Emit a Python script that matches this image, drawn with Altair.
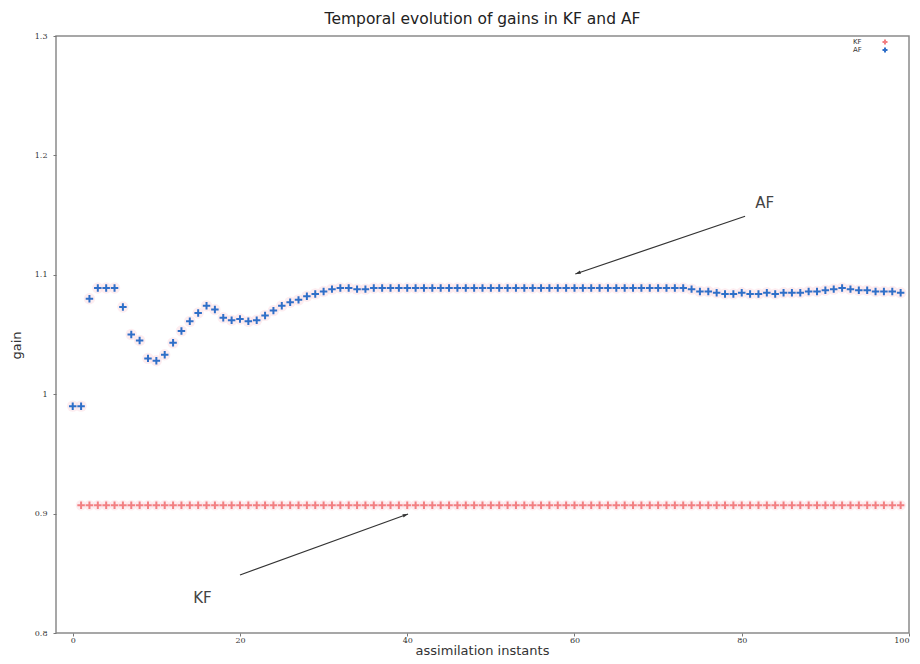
import altair as alt
import pandas as pd

# ---------------- data ----------------
af_instants = list(range(0, 100))
af_gain = [
    0.990, 0.990, 1.080, 1.089, 1.089, 1.089, 1.073, 1.050, 1.045, 1.030,
    1.028, 1.033, 1.043, 1.053, 1.061, 1.068, 1.074, 1.071, 1.064, 1.062,
    1.063, 1.061, 1.062, 1.066, 1.070, 1.074, 1.077, 1.079, 1.082, 1.084,
    1.086, 1.088, 1.089, 1.089, 1.088, 1.088, 1.089, 1.089, 1.089, 1.089,
    1.089, 1.089, 1.089, 1.089, 1.089, 1.089, 1.089, 1.089, 1.089, 1.089,
    1.089, 1.089, 1.089, 1.089, 1.089, 1.089, 1.089, 1.089, 1.089, 1.089,
    1.089, 1.089, 1.089, 1.089, 1.089, 1.089, 1.089, 1.089, 1.089, 1.089,
    1.089, 1.089, 1.089, 1.089, 1.088, 1.086, 1.086, 1.085, 1.084, 1.084,
    1.085, 1.084, 1.084, 1.085, 1.084, 1.085, 1.085, 1.085, 1.086, 1.086,
    1.087, 1.088, 1.089, 1.088, 1.087, 1.087, 1.086, 1.086, 1.086, 1.085,
]

kf_instants = list(range(1, 100))
kf_gain = [
    0.907, 0.907, 0.907, 0.907, 0.907, 0.907, 0.907, 0.907, 0.907,
    0.907, 0.907, 0.907, 0.907, 0.907, 0.907, 0.907, 0.907, 0.907, 0.907,
    0.907, 0.907, 0.907, 0.907, 0.907, 0.907, 0.907, 0.907, 0.907, 0.907,
    0.907, 0.907, 0.907, 0.907, 0.907, 0.907, 0.907, 0.907, 0.907, 0.907,
    0.907, 0.907, 0.907, 0.907, 0.907, 0.907, 0.907, 0.907, 0.907, 0.907,
    0.907, 0.907, 0.907, 0.907, 0.907, 0.907, 0.907, 0.907, 0.907, 0.907,
    0.907, 0.907, 0.907, 0.907, 0.907, 0.907, 0.907, 0.907, 0.907, 0.907,
    0.907, 0.907, 0.907, 0.907, 0.907, 0.907, 0.907, 0.907, 0.907, 0.907,
    0.907, 0.907, 0.907, 0.907, 0.907, 0.907, 0.907, 0.907, 0.907, 0.907,
    0.907, 0.907, 0.907, 0.907, 0.907, 0.907, 0.907, 0.907, 0.907, 0.907,
]

x_ticks = [0, 20, 40, 60, 80, 100]
y_ticks = [0.8, 0.9, 1.0, 1.1, 1.2, 1.3]

# annotations (label position, arrow start, arrow end) in data units
annot_labels = ["AF", "KF"]
annot_text_x = [81.6, 14.4]
annot_text_y = [1.160, 0.829]
arrow_x_start = [80.4, 20.0]
arrow_y_start = [1.149, 0.8486]
arrow_x_end = [60.1, 40.1]
arrow_y_end = [1.1007, 0.8997]
arrow_angle = [251, 70]

legend_labels = ["KF", "AF"]

# ---------------- styling ----------------
AF_COLOR = "#2f6fc8"
KF_COLOR = "#f27f82"
HALO = "#fbdfe4"
PLUS = "M-1,0L1,0M0,-1L0,1"
HEAD = "M0,0L-0.45,1.4L0.45,1.4Z"

af_df = pd.DataFrame({"instant": af_instants, "gain": af_gain})
kf_df = pd.DataFrame({"instant": kf_instants, "gain": kf_gain})
ann_df = pd.DataFrame({
    "label": annot_labels,
    "instant": annot_text_x,
    "gain": annot_text_y,
})
arr_df = pd.DataFrame({
    "instant": arrow_x_start,
    "gain": arrow_y_start,
    "instant2": arrow_x_end,
    "gain2": arrow_y_end,
})
head_df = pd.DataFrame({
    "instant": arrow_x_end,
    "gain": arrow_y_end,
    "angle": arrow_angle,
})

X = alt.X(
    "instant:Q",
    scale=alt.Scale(domain=[-2, 100], nice=False, zero=False),
    axis=alt.Axis(
        values=x_ticks,
        title="assimilation instants",
        titleFontSize=13,
        titleFont="DejaVu Sans",
        titleFontWeight="normal",
        titleColor="#333333",
        titleX=426,
        titleY=21,
        titleBaseline="alphabetic",
        titleAlign="center",
        labelPadding=0,
    ),
)
Y = alt.Y(
    "gain:Q",
    scale=alt.Scale(domain=[0.8, 1.3], nice=False, zero=False),
    axis=alt.Axis(
        values=y_ticks,
        format=".1~f",
        title="gain",
        titleFontSize=13,
        titleFont="DejaVu Sans",
        titleFontWeight="normal",
        titleColor="#333333",
        titleX=-40,
        titleY=309,
        titleAngle=-90,
        titleBaseline="middle",
        titleAlign="center",
        labelPadding=6,
    ),
)

halo_kf = alt.Chart(kf_df).mark_circle(size=110, color=HALO, opacity=0.55).encode(x=X, y=Y)
halo_af = alt.Chart(af_df).mark_circle(size=130, color=HALO, opacity=0.55).encode(x=X, y=Y)

kf_layer = alt.Chart(kf_df).mark_point(
    shape=PLUS, size=56, filled=False, strokeWidth=2, color=KF_COLOR, opacity=1
).encode(x=X, y=Y)

af_layer = alt.Chart(af_df).mark_point(
    shape=PLUS, size=56, filled=False, strokeWidth=2, color=AF_COLOR, opacity=1
).encode(x=X, y=Y)

ann_text = alt.Chart(ann_df).mark_text(
    font="DejaVu Sans", fontSize=15, color="#444444", align="left", baseline="middle"
).encode(x=X, y=Y, text="label:N")

arrows = alt.Chart(arr_df).mark_rule(color="#333333", strokeWidth=1.2).encode(
    x=X, y=Y, x2="instant2:Q", y2="gain2:Q"
)

heads = alt.Chart(head_df).mark_point(
    shape=HEAD, size=60, filled=True, color="#333333", opacity=1
).encode(x=X, y=Y, angle=alt.Angle("angle:Q", scale=None))

legend_layers = []
legend_colors = [KF_COLOR, AF_COLOR]
for i, (lbl, col) in enumerate(zip(legend_labels, legend_colors)):
    ldf = pd.DataFrame({"label": [lbl]})
    legend_layers.append(
        alt.Chart(ldf).mark_text(
            font="DejaVu Sans", fontSize=7, color="#333333", align="left", baseline="middle"
        ).encode(x=alt.value(797), y=alt.value(6 + 8 * i), text="label:N")
    )
    legend_layers.append(
        alt.Chart(ldf).mark_point(
            shape=PLUS, size=25, filled=False, strokeWidth=2, color=col, opacity=1
        ).encode(x=alt.value(829), y=alt.value(6 + 8 * i))
    )

chart = alt.layer(
    halo_kf, halo_af, kf_layer, af_layer, arrows, heads, ann_text, *legend_layers
).properties(
    width=853,
    height=597,
    title=alt.TitleParams(
        text="Temporal evolution of gains in KF and AF",
        font="DejaVu Sans",
        fontSize=15.5,
        fontWeight="normal",
        color="#222222",
        anchor="middle",
        offset=5,
    ),
    autosize=alt.AutoSizeParams(type="none"),
    padding={"left": 48, "top": 28, "right": 2, "bottom": 23},
).configure_view(
    stroke="#8a8a8a", strokeWidth=1.5
).configure_axis(
    grid=False,
    domain=False,
    tickColor="#777777",
    tickSize=3,
    labelFont="DejaVu Serif",
    labelFontSize=8,
    labelColor="#333333",
)

chart.save("out.html", embed_options={"renderer": "svg", "actions": False})
